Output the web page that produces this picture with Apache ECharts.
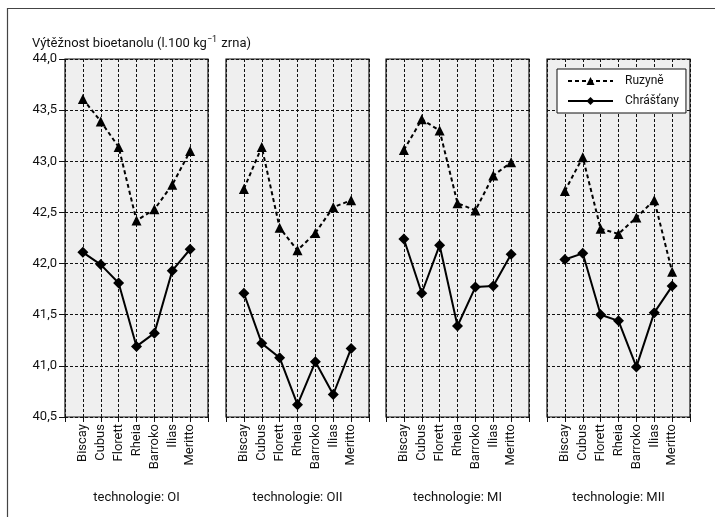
<!DOCTYPE html>
<html><head><meta charset="utf-8">
<script src="https://cdn.jsdelivr.net/npm/echarts@6/dist/echarts.min.js"></script>
<style>html,body{margin:0;padding:0;background:#fff}#c{width:715px;height:517px}</style>
</head><body><div id="c"></div>
<script>
const categories = ['Biscay','Cubus','Florett','Rheia','Barroko','Ilias','Meritto'];
const panels = ['technologie: OI','technologie: OII','technologie: MI','technologie: MII'];
const seriesNames = ['Ruzyně','Chrášťany'];
const ruzyne = [
  [43.61,43.39,43.14,42.42,42.53,42.77,43.10],
  [42.73,43.14,42.35,42.13,42.30,42.55,42.62],
  [43.11,43.41,43.30,42.59,42.52,42.86,42.99],
  [42.71,43.04,42.34,42.29,42.45,42.62,41.92]
];
const chrastany = [
  [42.11,41.99,41.81,41.19,41.32,41.93,42.14],
  [41.71,41.22,41.08,40.62,41.04,40.72,41.17],
  [42.24,41.71,42.18,41.39,41.77,41.78,42.09],
  [42.04,42.10,41.50,41.44,40.99,41.52,41.78]
];
const yMin = 40.5, yMax = 44.0, yStep = 0.5;

const FONT = "Roboto,'Liberation Sans',sans-serif";
const axisCats = [''].concat(categories, ['']);
const lefts = [65, 226, 386, 547];
const grids = [], xAxes = [], yAxes = [], series = [];
panels.forEach((p, i) => {
  grids.push({left: lefts[i], top: 59, width: 143, height: 358, show: true,
    backgroundColor: '#efefef', borderColor: '#111', borderWidth: 1.2});
  xAxes.push({type: 'category', gridIndex: i, data: axisCats, boundaryGap: false,
    axisLine: {show: false},
    axisTick: {show: true, length: 5, lineStyle: {color: '#111'}, interval: 0},
    axisLabel: {rotate: 90, interval: 0, margin: 7, color: '#111', fontSize: 13, fontFamily: FONT},
    splitLine: {show: true, interval: 0, lineStyle: {color: '#111', type: [3, 2], width: 1}},
    name: p, nameLocation: 'middle', nameGap: 74,
    nameTextStyle: {color: '#111', fontSize: 13, fontFamily: FONT}});
  yAxes.push({type: 'value', gridIndex: i, min: yMin, max: yMax, interval: yStep,
    axisLine: {show: false},
    axisTick: {show: i === 0, length: 6, lineStyle: {color: '#111'}},
    axisLabel: {show: i === 0, color: '#111', fontSize: 13, fontFamily: FONT, margin: 8,
      formatter: v => v.toFixed(1).replace('.', ',')},
    splitLine: {show: true, lineStyle: {color: '#111', type: [3, 2], width: 1}}});
  series.push({name: seriesNames[0], type: 'line', xAxisIndex: i, yAxisIndex: i,
    data: categories.map((c, k) => [c, ruzyne[i][k]]),
    symbol: 'triangle', symbolSize: 10,
    lineStyle: {color: '#000', width: 2, type: [4, 3]},
    itemStyle: {color: '#000'}, emphasis: {disabled: true}});
  series.push({name: seriesNames[1], type: 'line', xAxisIndex: i, yAxisIndex: i,
    data: categories.map((c, k) => [c, chrastany[i][k]]),
    symbol: 'diamond', symbolSize: 11,
    lineStyle: {color: '#000', width: 2},
    itemStyle: {color: '#000'}, emphasis: {disabled: true}});
});

const chart = echarts.init(document.getElementById('c'), null, {renderer: 'canvas'});
chart.setOption({
  animation: false,
  backgroundColor: '#fff',
  title: {left: 27, top: 30,
    text: 'Výtěžnost bioetanolu (l.100 kg{sup|−1} zrna)',
    textStyle: {color: '#111', fontSize: 13, fontWeight: 'normal', fontFamily: FONT,
      rich: {sup: {fontSize: 9, verticalAlign: 'top', padding: [0, 1, 8, 0], color: '#111', fontFamily: FONT}}}},
  legend: {data: seriesNames, orient: 'vertical', left: 557, top: 69,
    backgroundColor: '#fff', borderColor: '#111', borderWidth: 1,
    padding: [6, 7, 6, 10], itemWidth: 45, itemHeight: 10, itemGap: 8,
    textStyle: {color: '#111', fontSize: 12, fontFamily: FONT, padding: [0, 0, 0, 7]}},
  graphic: [{type: 'rect', shape: {x: 7.5, y: 8.5, width: 900, height: 700},
    style: {fill: 'none', stroke: '#444', lineWidth: 1.2}, silent: true}],
  grid: grids, xAxis: xAxes, yAxis: yAxes, series: series
});
</script></body></html>
